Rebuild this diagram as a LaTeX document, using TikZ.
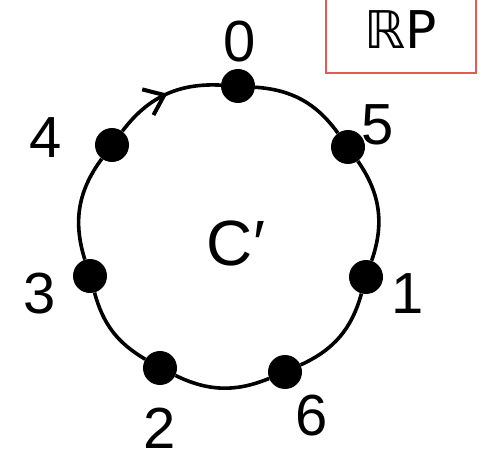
\documentclass[tikz,border=0pt]{standalone}
\usepackage{fontspec}
\setmainfont{Liberation Sans}
\newfontfamily\dejavu{DejaVu Sans}
\usetikzlibrary{arrows.meta,decorations.markings}
\definecolor{boxred}{RGB}{228,92,80}
\begin{document}
\begin{tikzpicture}[x=1pt,y=-1pt,
  dot/.style={circle,fill=black,inner sep=0pt,minimum size=34pt},
  lab/.style={font=\fontsize{58}{58}\selectfont,inner sep=0pt},
  ring/.style={line width=3.6pt,black}]
\useasboundingbox (0,0) rectangle (498,465);
% dots
\node[dot] (n0) at (238,86) {};
\node[dot] (n5) at (348,147) {};
\node[dot] (n1) at (366,277) {};
\node[dot] (n6) at (285,372) {};
\node[dot] (n2) at (160,368) {};
\node[dot] (n3) at (90,276) {};
\node[dot] (n4) at (112,145) {};
% labels
\node[lab] (l0) at (240,42) {0};
\node[lab] (l5) at (378,125) {5};
\node[lab] (l1) at (408,294) {1};
\node[lab] (l6) at (312,416) {6};
\node[lab] (l2) at (160,428) {2};
\node[lab] (l3) at (40,294) {3};
\node[lab] (l4) at (46,138) {4};
\node[font=\fontsize{64}{64}\selectfont,inner sep=0pt] (c) at (236,243) {C′};
% ring
\draw[ring] (n0) to[bend left=25] (n5);
\draw[ring] (n5) to[bend left=27] (n1);
\draw[ring] (n1) to[bend left=25] (n6);
\draw[ring] (n6) to[bend left=24] (n2);
\draw[ring] (n2) to[bend left=22] (n3);
\draw[ring] (n3) to[bend left=27] (n4);
\draw[ring,postaction={decorate},decoration={markings,
  mark=at position 0.52 with {\arrow{Straight Barb[length=18pt,width=28pt,line width=4pt]}}}]
  (n4) to[bend left=28] (n0);
% RP box
\node[draw=boxred,line width=1.8pt,minimum width=150pt,minimum height=86pt,
  inner sep=0pt,font=\dejavu\fontsize{52}{52}\selectfont] (rp) at (401,30) {ℝP};
\end{tikzpicture}
\end{document}
